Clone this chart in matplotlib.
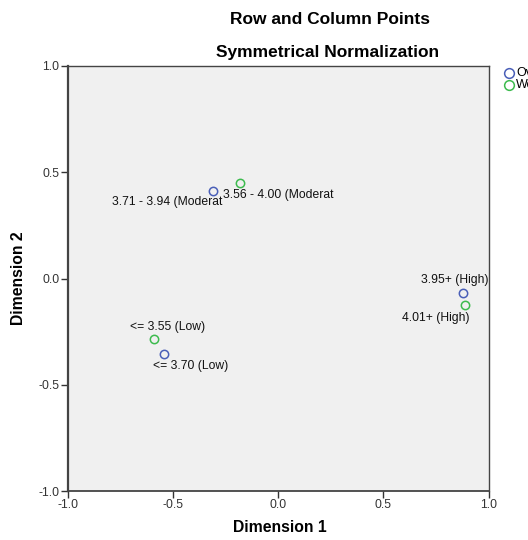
import matplotlib
matplotlib.use("Agg")
import matplotlib.pyplot as plt

plt.rcParams['font.family'] = ['Liberation Sans', 'DejaVu Sans']

# row points (blue) and column points (green)
row_labels = ['3.71 - 3.94 (Moderat', '3.95+ (High)', '<= 3.70 (Low)']
row_x = [-0.309, 0.879, -0.542]
row_y = [0.414, -0.066, -0.353]

col_labels = ['3.56 - 4.00 (Moderat', '4.01+ (High)', '<= 3.55 (Low)']
col_x = [-0.180, 0.888, -0.589]
col_y = [0.450, -0.127, -0.287]

legend_names = ['Overall', 'Wellbeing']
ticks = [-1.0, -0.5, 0.0, 0.5, 1.0]

blue = '#4A5FB8'
green = '#3DBB4E'

fig = plt.figure(figsize=(5.28, 5.40), dpi=100)
ax = fig.add_axes([67.5 / 528, 49 / 540, 421 / 528, 425 / 540])
ax.set_facecolor('#F0F0F0')

ax.plot(row_x, row_y, 'o', mfc='none', mec=blue, ms=6, mew=1.1)
ax.plot(col_x, col_y, 'o', mfc='none', mec=green, ms=6, mew=1.1)

# label offsets in points (dx, dy, ha)
row_off = [(6.5, -8, 'right'), (18, 9, 'right'), (-8, -9, 'left')]
col_off = [(-12.5, -9, 'left'), (3.6, -9, 'right'), (9.5, 9, 'center')]
for lab, x, y, (dx, dy, ha) in zip(row_labels, row_x, row_y, row_off):
    ax.annotate(lab, xy=(x, y), xytext=(dx, dy), textcoords='offset points',
                ha=ha, va='center', fontsize=8.75, color='#111111')
for lab, x, y, (dx, dy, ha) in zip(col_labels, col_x, col_y, col_off):
    ax.annotate(lab, xy=(x, y), xytext=(dx, dy), textcoords='offset points',
                ha=ha, va='center', fontsize=8.75, color='#111111')

ax.set_xlim(-1.0, 1.0)
ax.set_ylim(-1.0, 1.0)
ax.set_xticks(ticks)
ax.set_yticks(ticks)
ax.set_xticklabels(['%.1f' % t for t in ticks])
ax.set_yticklabels(['%.1f' % t for t in ticks])
ax.tick_params(direction='out', length=5, width=1, color='#333333',
               labelsize=8.75, labelcolor='#333333', pad=1)
for s in ax.spines.values():
    s.set_color('#444444')
    s.set_linewidth(1.0)
ax.spines['left'].set_linewidth(1.6)
ax.spines['bottom'].set_linewidth(1.3)

fig.text(280 / 528, 1 - 527 / 540, 'Dimension 1', ha='center', va='center',
         fontsize=11.3, fontweight='bold')
fig.text(19 / 528, 1 - 278 / 540, 'Dimension 2', ha='center', va='center',
         fontsize=11.3, fontweight='bold', rotation=90)

fig.text(330 / 528, 1 - 20 / 540, 'Row and Column Points', ha='center', va='center',
         fontsize=12.5, fontweight='bold')
fig.text(328 / 528, 1 - 53 / 540, 'Symmetrical Normalization', ha='center', va='center',
         fontsize=12.5, fontweight='bold')

# legend, truncated at the figure edge as in the original
for i, (name, c) in enumerate(zip(legend_names, [blue, green])):
    yy = 1 - (73 + 12 * i) / 540
    fig.lines.append(plt.Line2D([509 / 528], [yy], marker='o', mfc='none', mec=c,
                                ms=7, mew=1.1, transform=fig.transFigure))
    fig.text(516 / 528, yy, name, ha='left', va='center', fontsize=9)

fig.savefig('out.png', dpi=100)
